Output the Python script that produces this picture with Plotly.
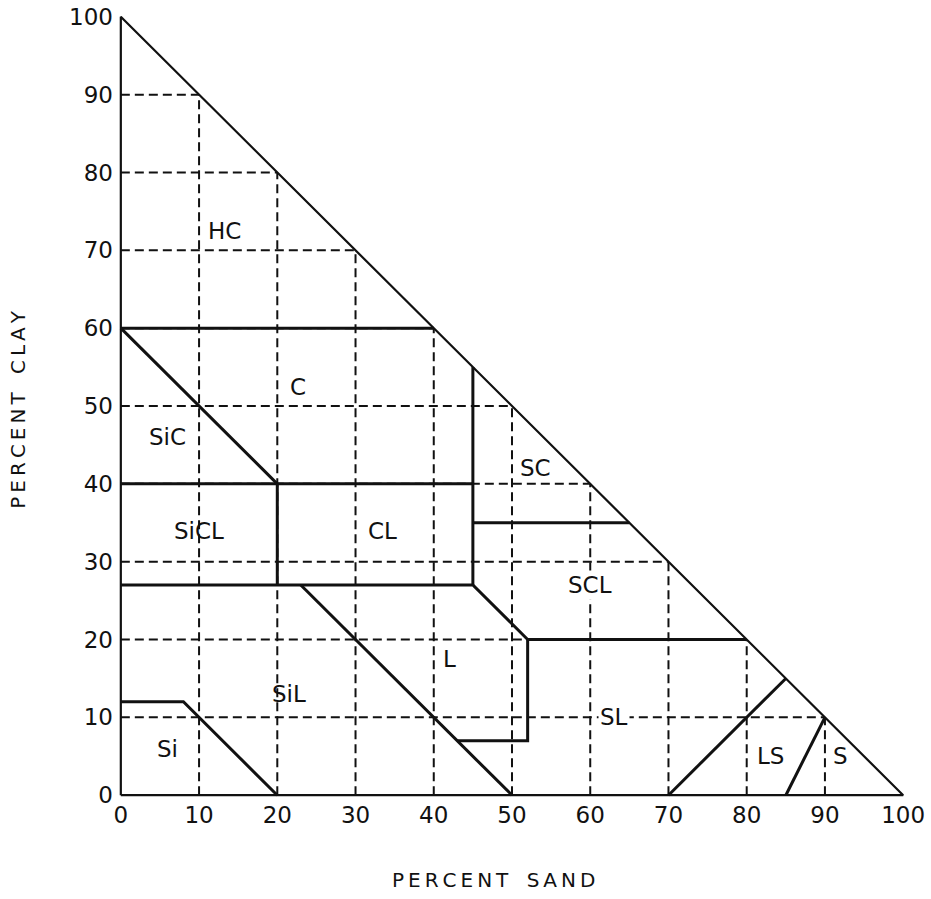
import plotly.graph_objects as go

# ---- data ----
sand_ticks = [0, 10, 20, 30, 40, 50, 60, 70, 80, 90, 100]
clay_ticks = [0, 10, 20, 30, 40, 50, 60, 70, 80, 90, 100]
tick_labels = ["0", "10", "20", "30", "40", "50", "60", "70", "80", "90", "100"]
grid_levels = [10, 20, 30, 40, 50, 60, 70, 80, 90]

outline_sand = [0, 100, 0, 0]
outline_clay = [0, 0, 100, 0]

# textural class boundaries: (sand %, clay %)
boundary_sand = [
    [0, 40], [0, 20], [0, 45], [45, 45], [45, 65], [20, 20],
    [0, 45, 52], [52, 80], [52, 52, 43], [23, 50], [0, 8, 20], [70, 85], [85, 90],
]
boundary_clay = [
    [60, 60], [60, 40], [40, 40], [27, 55], [35, 35], [40, 27],
    [27, 27, 20], [20, 20], [20, 7, 7], [27, 0], [12, 12, 0], [0, 15], [0, 10],
]

class_names = ["HC", "C", "SiC", "SiCL", "CL", "SC", "SCL", "L", "SiL", "SL", "Si", "LS", "S"]
label_sand = [13.3, 22.7, 6, 10, 33.5, 53, 60, 42, 21.5, 63, 6, 83, 92]
label_clay = [72.5, 52.5, 46, 34, 34, 42, 27, 17.5, 13, 10, 6, 5, 5]
label_bg = [False, False, False, False, False, False, True, False, False, True, False, False, False]

FONT = "DejaVu Sans"
INK = "#111111"

fig = go.Figure()

# dashed grid clipped to the triangle
gx, gy = [], []
for k in grid_levels:
    gx += [0, 100 - k, None]
    gy += [k, k, None]
for k in grid_levels:
    gx += [k, k, None]
    gy += [0, 100 - k, None]
fig.add_trace(go.Scatter(x=gx, y=gy, mode="lines", hoverinfo="skip",
                         line=dict(color=INK, width=2, dash="9px,5px")))

# triangle outline
fig.add_trace(go.Scatter(x=outline_sand, y=outline_clay, mode="lines", hoverinfo="skip",
                         line=dict(color=INK, width=2.2)))

# class boundaries
for bs, bc in zip(boundary_sand, boundary_clay):
    fig.add_trace(go.Scatter(x=bs, y=bc, mode="lines", hoverinfo="skip",
                             line=dict(color=INK, width=3)))

for name, sx, cy, bg in zip(class_names, label_sand, label_clay, label_bg):
    fig.add_annotation(x=sx, y=cy, text=name, showarrow=False,
                       xanchor="center", yanchor="middle",
                       font=dict(family=FONT, size=23, color=INK),
                       bgcolor="white" if bg else "rgba(0,0,0,0)", borderpad=1)

def spaced(word):
    return "\u2009".join(word)

fig.add_annotation(xref="paper", yref="paper", x=0.4774, y=-0.0973,
                   xanchor="center", yanchor="middle",
                   text=spaced("PERCENT") + "\u2009 \u2009\u2009" + spaced("SAND"),
                   showarrow=False, font=dict(family=FONT, size=20, color=INK))
fig.add_annotation(xref="paper", yref="paper", x=-0.1194, y=0.495, textangle=-90,
                   xanchor="center", yanchor="middle",
                   text=spaced("PERCENT") + "\u2009 \u2009\u2009" + spaced("CLAY"),
                   showarrow=False, font=dict(family=FONT, size=20, color=INK))

axis_common = dict(showgrid=False, zeroline=False, showline=False, ticks="",
                   tickfont=dict(family=FONT, size=23, color=INK),
                   ticklabeloverflow="allow",
                   range=[-1, 101], fixedrange=True)
fig.update_xaxes(tickvals=sand_ticks, ticktext=tick_labels, ticklabelstandoff=-4, **axis_common)
fig.update_yaxes(tickvals=clay_ticks, ticktext=tick_labels, ticklabelstandoff=-1, **axis_common)

fig.update_layout(width=931, height=899, showlegend=False,
                  paper_bgcolor="white", plot_bgcolor="white",
                  margin=dict(l=113, r=20, t=9, b=96, autoexpand=False))

fig.write_html("out.html",
               config={"displayModeBar": False, "staticPlot": True},
               post_script="document.body.style.margin='0';document.body.style.overflow='hidden';")
